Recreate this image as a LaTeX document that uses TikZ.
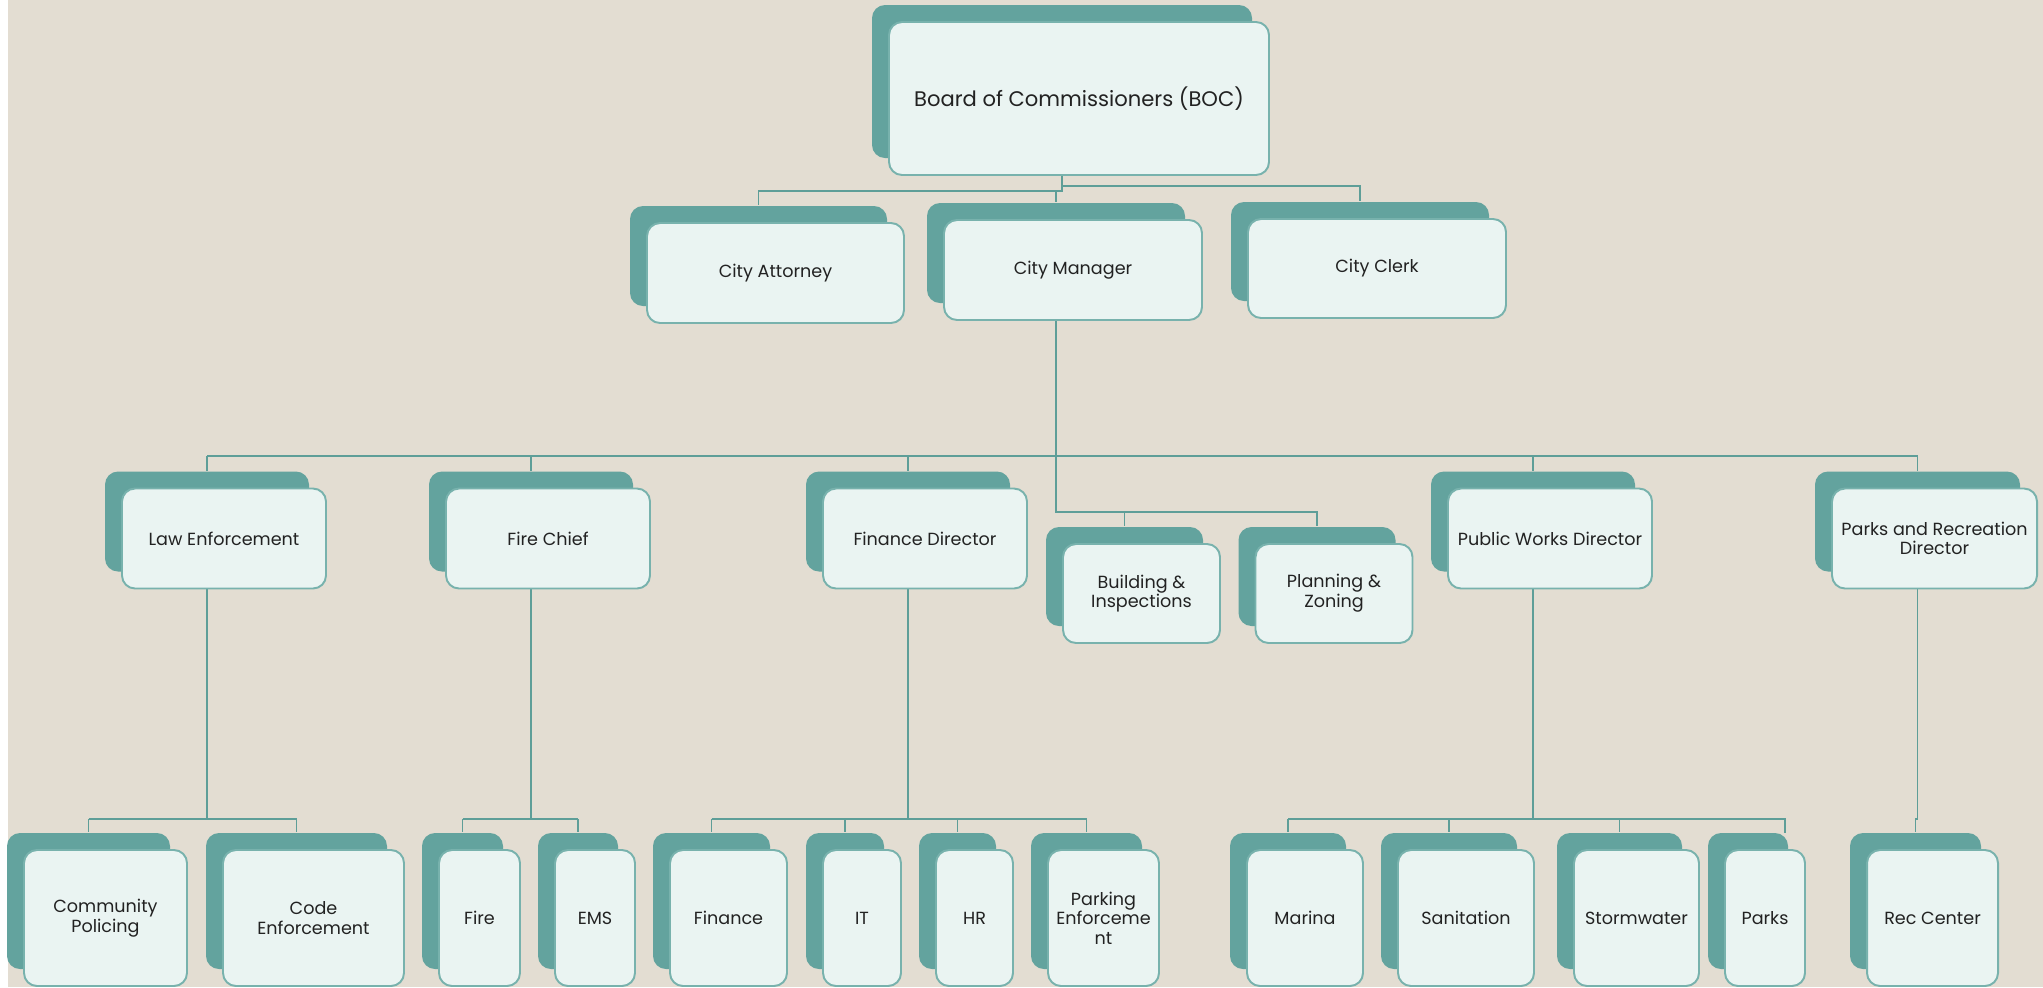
\documentclass[tikz,border=0pt]{standalone}
\usepackage{fontspec}
\setmainfont{Poppins}
\usetikzlibrary{backgrounds}
\definecolor{boardbg}{HTML}{E3DDD2}
\definecolor{tealback}{HTML}{63A39E}
\definecolor{tealline}{HTML}{5E9E98}
\definecolor{tealedge}{HTML}{78B2AD}
\definecolor{dotfill}{HTML}{EAF4F2}
\definecolor{labeltext}{HTML}{222222}
\tikzset{
  backbox/.style={fill=tealback, rounded corners=0.13cm, inner sep=0pt},
  frontbox/.style={fill=dotfill, draw=tealedge, line width=0.55pt, rounded corners=0.13cm,
    inner sep=0pt, align=center, text=labeltext, font=\fontsize{5.0}{5.6}\selectfont},
  link/.style={draw=tealline, line width=0.45pt},
}
% name, x, y, width, height, label (pixels of the front box)
\newcommand{\orgbox}[7][]{%
  \node[backbox, minimum width=#5*0.01cm, minimum height=#6*0.01cm] (#2b) at (#3-17,#4-17) {};
  \node[frontbox, minimum width=#5*0.01cm, minimum height=#6*0.01cm, #1] (#2) at (#3,#4) {#7};
}
\begin{document}
\begin{tikzpicture}[x=0.01cm, y=-0.01cm]
  \useasboundingbox (0,0) rectangle (2043,987);
  % top
  \orgbox[font=\fontsize{6.0}{6.6}\selectfont]{boc}{1079}{98.5}{380}{153}{Board of Commissioners (BOC)}
  \orgbox{atty}{775.5}{273}{257}{100}{City Attorney}
  \orgbox{mgr}{1073}{270}{258}{100}{City Manager}
  \orgbox{clerk}{1377}{268.5}{258}{99}{City Clerk}
  % directors
  \orgbox{law}{224}{538.5}{204}{100}{Law Enforcement}
  \orgbox{fchief}{548}{538.5}{204}{100}{Fire Chief}
  \orgbox{findir}{925}{538.5}{204}{100}{Finance Director}
  \orgbox{build}{1141.5}{593.5}{157}{99}{Building \&\\Inspections}
  \orgbox{plan}{1334}{593.5}{157}{99}{Planning \&\\Zoning}
  \orgbox{pwd}{1550}{538.5}{204}{100}{Public Works Director}
  \orgbox{prd}{1934.5}{538.5}{205}{100}{Parks and Recreation\\Director}
  % divisions
  \orgbox{commpol}{105.5}{918}{163}{136}{Community\\Policing}
  \orgbox{codeenf}{313.5}{918}{181}{136}{Code\\Enforcement}
  \orgbox{fire}{479.5}{918}{81}{136}{Fire}
  \orgbox{ems}{595}{918}{80}{136}{EMS}
  \orgbox{fin}{728.5}{918}{117}{136}{Finance}
  \orgbox{it}{862}{918}{78}{136}{IT}
  \orgbox{hr}{974.5}{918}{77}{136}{HR}
  \orgbox{park}{1103.5}{918}{111}{136}{Parking\\Enforceme\\nt}
  \orgbox{marina}{1305}{918}{116}{136}{Marina}
  \orgbox{sanit}{1466}{918}{136}{136}{Sanitation}
  \orgbox{storm}{1636.5}{918}{125}{136}{Stormwater}
  \orgbox{parks}{1765}{918}{80}{136}{Parks}
  \orgbox{rec}{1932.5}{918}{131}{136}{Rec Center}

  \coordinate (bus2) at (0,186);
  \coordinate (bus2a) at (0,191);
  \coordinate (bus3) at (0,456);
  \coordinate (bus3s) at (0,512);
  \coordinate (bus4) at (0,819);
  \coordinate (parksdrop) at (1785,833);

  \begin{scope}[on background layer]
    \fill[boardbg] (8,0) rectangle (2043,987);
    \draw[link] (bocb.center) -- (bocb.center |- bus2) -| (clerkb.north);
    \draw[link] (bocb.center |- bus2) -- (bocb.center |- bus2a) -| (attyb.north);
    \draw[link] (bocb.center |- bus2a) -| (mgrb.north);
    \draw[link] (mgrb.center) -- (mgrb.center |- bus3s) -| (planb.north);
    \draw[link] (buildb.north |- bus3s) -- (buildb.north);
    \draw[link] (lawb.north |- bus3) -- (prdb.north |- bus3);
    \foreach \d in {lawb, fchiefb, findirb, pwdb, prdb}
      \draw[link] (\d.north |- bus3) -- (\d.north);
    \draw[link] (lawb.center) -- (lawb.center |- bus4);
    \draw[link] (commpolb.north |- bus4) -- (codeenfb.north |- bus4);
    \draw[link] (fchiefb.center) -- (fchiefb.center |- bus4);
    \draw[link] (fireb.north |- bus4) -- (emsb.north |- bus4);
    \draw[link] (findirb.center) -- (findirb.center |- bus4);
    \draw[link] (finb.north |- bus4) -- (parkb.north |- bus4);
    \draw[link] (pwdb.center) -- (pwdb.center |- bus4);
    \draw[link] (marinab.north |- bus4) -| (parksdrop);
    \draw[link] (prdb.center) -- (prdb.center |- bus4) -| (recb.north);
    \foreach \d in {commpolb, codeenfb, fireb, emsb, finb, itb, hrb, parkb, marinab, sanitb, stormb}
      \draw[link] (\d.north |- bus4) -- (\d.north);
  \end{scope}
\end{tikzpicture}
\end{document}
